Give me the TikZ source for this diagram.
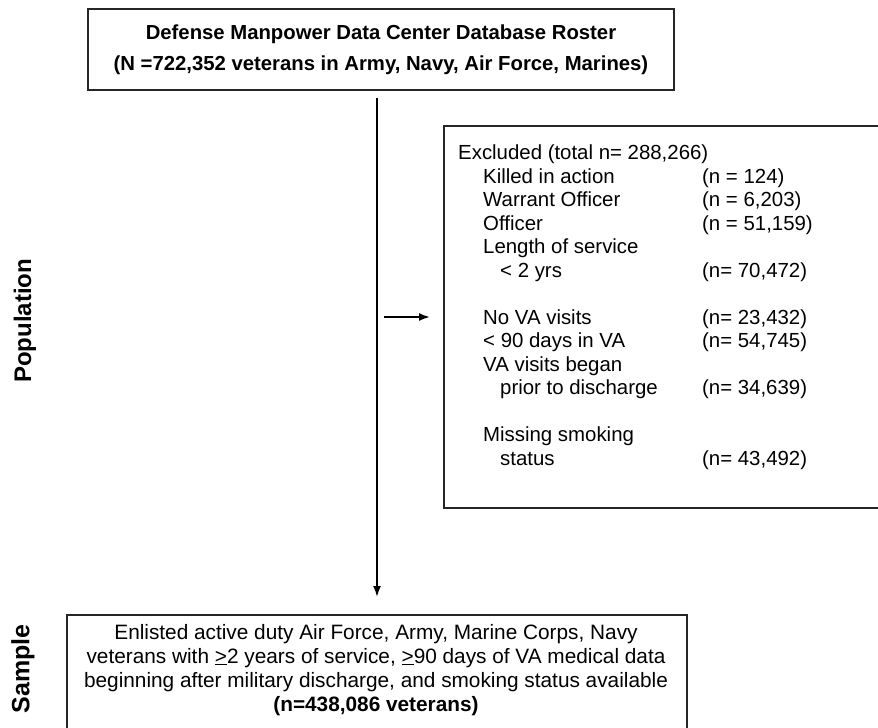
\documentclass[tikz,border=0pt]{standalone}
\usepackage{fontspec}
\setmainfont{Liberation Sans}
\usetikzlibrary{arrows.meta}

\tikzset{
  box/.style={draw=black!85,line width=2pt,fill=white,inner sep=0pt},
  side/.style={font=\fontsize{24}{28}\selectfont\bfseries,rotate=90},
  flow/.style={line width=1.8pt,-{Latex[length=11pt,width=8pt]}}
}

\begin{document}
\begin{tikzpicture}[x=1pt,y=-1pt]
    \useasboundingbox (0,0) rectangle (878,728);
    \clip (0,0) rectangle (878,728);

    % roster at the top
    \node[box,minimum width=586pt,minimum height=81pt,align=center,
          font=\fontsize{20.3}{31}\selectfont\bfseries] (roster) at (381,49.5)
      {Defense Manpower Data Center Database Roster\\
       (N =722,352 veterans in Army, Navy, Air Force, Marines)};

    % exclusions, box runs off the right edge
    \node[box,minimum width=450pt,minimum height=382pt,anchor=north west] (excl) at (443,125) {};
    \node[anchor=north west,inner sep=0pt,font=\fontsize{20.4}{23.5}\selectfont] (excltext) at (458,143)
      {\begin{tabular}{@{}p{244pt}@{}l@{}}
        \multicolumn{2}{@{}l@{}}{Excluded (total n= 288,266)}\\
        \hspace{25pt}Killed in action & (n = 124)\\
        \hspace{25pt}Warrant Officer & (n = 6,203)\\
        \hspace{25pt}Officer & (n = 51,159)\\
        \hspace{25pt}Length of service & \\
        \hspace{42pt}< 2 yrs & (n= 70,472)\\
        & \\
        \hspace{25pt}No VA visits & (n= 23,432)\\
        \hspace{25pt}< 90 days in VA & (n= 54,745)\\
        \hspace{25pt}VA visits began & \\
        \hspace{42pt}prior to discharge & (n= 34,639)\\
        & \\
        \hspace{25pt}Missing smoking & \\
        \hspace{42pt}status & (n= 43,492)
      \end{tabular}};

    % final sample, box runs off the bottom edge
    \node[box,minimum width=620pt,minimum height=130pt,anchor=north west] (sample) at (66,614) {};
    \node[align=center,inner sep=0pt,anchor=north,font=\fontsize{20.8}{24}\selectfont] (sampletext) at (376,624)
      {Enlisted active duty Air Force, Army, Marine Corps, Navy\\
       veterans with \underline{>}2 years of service, \underline{>}90 days of VA medical data\\
       beginning after military discharge, and smoking status available\\
       \textbf{(n=438,086 veterans)}};

    % side labels
    \node[side] (poplabel) at (25,321) {Population};
    \node[side,font=\fontsize{25}{28}\selectfont\bfseries] (samplabel) at (23,669) {Sample};

    % connectors
    \coordinate (split) at (sample.north |- 0,317);
    \draw[flow,shorten <=7pt,shorten >=17pt] (sample.north |- roster.south) -- (sample.north);
    \draw[flow,shorten <=7pt,shorten >=13pt] (split) -- (split -| excl.west);
\end{tikzpicture}
\end{document}
